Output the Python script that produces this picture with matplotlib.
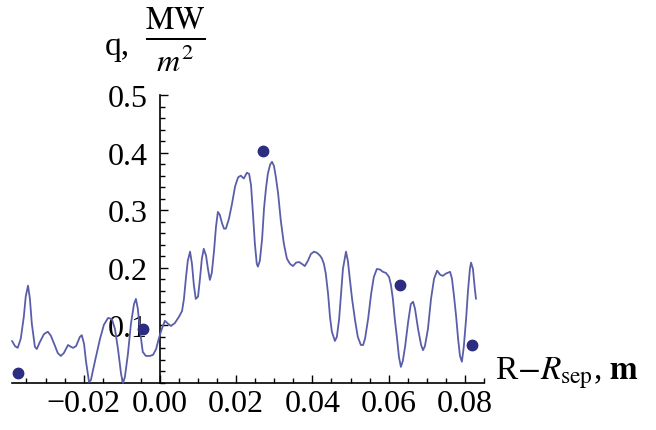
import matplotlib
matplotlib.use("Agg")
import matplotlib.pyplot as plt
from matplotlib.ticker import MultipleLocator, FuncFormatter

plt.rcParams['font.family'] = ['Liberation Serif', 'DejaVu Serif']
plt.rcParams['mathtext.fontset'] = 'stix'

# curve (R - R_sep [m], q [MW/m^2])
curve_x = [-0.0388, -0.0380, -0.0373, -0.0365, -0.0357, -0.0352, -0.0346, -0.0341, -0.0336, -0.0328,
           -0.0323, -0.0315, -0.0304, -0.0294, -0.0286, -0.0275, -0.0268, -0.0260, -0.0252, -0.0241,
           -0.0234, -0.0228, -0.0220, -0.0210, -0.0205, -0.0199, -0.0194, -0.0186, -0.0181, -0.0176,
           -0.0168, -0.0157, -0.0147, -0.0136, -0.0126, -0.0118, -0.0110, -0.0102, -0.0097, -0.0092,
           -0.0084, -0.0076, -0.0068, -0.0063, -0.0058, -0.0052, -0.0045, -0.0037, -0.0026, -0.0018,
           -0.0010, -0.0003, 0.0005, 0.0013, 0.0021, 0.0029, 0.0039, 0.0050, 0.0058, 0.0063,
           0.0068, 0.0073, 0.0079, 0.0084, 0.0089, 0.0094, 0.0100, 0.0105, 0.0110, 0.0115,
           0.0121, 0.0126, 0.0131, 0.0136, 0.0142, 0.0147, 0.0152, 0.0157, 0.0163, 0.0168,
           0.0173, 0.0181, 0.0189, 0.0197, 0.0205, 0.0212, 0.0220, 0.0228, 0.0234, 0.0239,
           0.0244, 0.0249, 0.0254, 0.0257, 0.0262, 0.0268, 0.0273, 0.0278, 0.0283, 0.0289,
           0.0294, 0.0299, 0.0304, 0.0310, 0.0317, 0.0325, 0.0333, 0.0341, 0.0349, 0.0357,
           0.0365, 0.0372, 0.0380, 0.0388, 0.0396, 0.0404, 0.0412, 0.0420, 0.0425, 0.0430,
           0.0435, 0.0441, 0.0446, 0.0451, 0.0459, 0.0464, 0.0470, 0.0475, 0.0480, 0.0488,
           0.0493, 0.0498, 0.0504, 0.0512, 0.0519, 0.0527, 0.0533, 0.0538, 0.0546, 0.0554,
           0.0561, 0.0569, 0.0577, 0.0585, 0.0593, 0.0601, 0.0606, 0.0611, 0.0616, 0.0622,
           0.0627, 0.0632, 0.0637, 0.0643, 0.0651, 0.0658, 0.0664, 0.0669, 0.0677, 0.0685,
           0.0690, 0.0695, 0.0703, 0.0711, 0.0719, 0.0727, 0.0735, 0.0742, 0.0750, 0.0761,
           0.0766, 0.0771, 0.0777, 0.0782, 0.0787, 0.0792, 0.0797, 0.0803, 0.0808, 0.0813,
           0.0816, 0.0821, 0.0826, 0.0829]
curve_y = [0.073, 0.064, 0.061, 0.077, 0.115, 0.150, 0.169, 0.146, 0.103, 0.063,
           0.059, 0.071, 0.085, 0.089, 0.082, 0.064, 0.052, 0.047, 0.052, 0.066,
           0.063, 0.061, 0.064, 0.080, 0.083, 0.068, 0.038, 0.002, 0.005, 0.021,
           0.045, 0.077, 0.101, 0.113, 0.111, 0.094, 0.059, 0.016, 0.000, 0.010,
           0.050, 0.103, 0.137, 0.146, 0.129, 0.089, 0.054, 0.047, 0.047, 0.049,
           0.059, 0.077, 0.094, 0.108, 0.103, 0.099, 0.104, 0.115, 0.125, 0.146,
           0.181, 0.212, 0.228, 0.207, 0.170, 0.146, 0.150, 0.181, 0.216, 0.233,
           0.221, 0.198, 0.179, 0.191, 0.230, 0.271, 0.297, 0.292, 0.277, 0.268,
           0.268, 0.285, 0.311, 0.341, 0.357, 0.360, 0.355, 0.365, 0.363, 0.343,
           0.294, 0.242, 0.207, 0.202, 0.212, 0.250, 0.303, 0.337, 0.363, 0.379,
           0.384, 0.377, 0.358, 0.329, 0.282, 0.242, 0.216, 0.207, 0.203, 0.209,
           0.210, 0.207, 0.203, 0.212, 0.224, 0.228, 0.226, 0.221, 0.216, 0.207,
           0.190, 0.155, 0.115, 0.089, 0.073, 0.080, 0.111, 0.155, 0.198, 0.228,
           0.212, 0.181, 0.146, 0.108, 0.080, 0.066, 0.066, 0.077, 0.111, 0.155,
           0.184, 0.198, 0.197, 0.193, 0.191, 0.184, 0.170, 0.146, 0.111, 0.077,
           0.045, 0.028, 0.038, 0.063, 0.106, 0.137, 0.141, 0.129, 0.094, 0.066,
           0.057, 0.064, 0.094, 0.146, 0.181, 0.195, 0.188, 0.186, 0.190, 0.193,
           0.181, 0.153, 0.115, 0.077, 0.047, 0.037, 0.063, 0.111, 0.160, 0.198,
           0.209, 0.198, 0.163, 0.146]

# measured points
pts_x = [-0.0372, -0.0045, 0.0270, 0.0630, 0.0818]
pts_y = [0.017, 0.094, 0.403, 0.170, 0.066]

xticks = [-0.02, 0.00, 0.02, 0.04, 0.06, 0.08]
yticks = [0.1, 0.2, 0.3, 0.4, 0.5]

fig = plt.figure(figsize=(6.56, 4.31), dpi=100)
ax = fig.add_axes([12/656, 47/431, 472/656, 288/431])
ax.set_xlim(-0.0388, 0.0850)
ax.set_ylim(0, 0.5)

ax.plot(curve_x, curve_y, color='#5a5ea8', lw=1.3, clip_on=False, zorder=3,
        solid_joinstyle='round', solid_capstyle='round')
ax.plot(pts_x, pts_y, 'o', color='#2c2c80', ms=7.5, clip_on=False, zorder=4)

for s in ['top', 'right']:
    ax.spines[s].set_visible(False)
ax.spines['left'].set_position(('data', 0))
ax.spines['bottom'].set_position(('data', 0))
for s in ['left', 'bottom']:
    ax.spines[s].set_linewidth(1.2)
    ax.spines[s].set_color('black')

ax.set_xticks(xticks)
ax.xaxis.set_minor_locator(MultipleLocator(0.005))
ax.set_yticks(yticks)
ax.yaxis.set_minor_locator(MultipleLocator(0.02))

def xfmt(v, pos):
    s = '%.2f' % abs(v)
    return ('\u2212' + s) if v < -1e-9 else s

ax.xaxis.set_major_formatter(FuncFormatter(xfmt))
ax.yaxis.set_major_formatter(FuncFormatter(lambda v, p: '%.1f' % v))

ax.tick_params(axis='x', which='major', direction='in', length=6, width=1, labelsize=23, pad=4)
ax.tick_params(axis='x', which='minor', direction='in', length=3.5, width=1)
ax.tick_params(axis='y', which='major', direction='in', length=6, width=1, labelsize=23, pad=9)
ax.tick_params(axis='y', which='minor', direction='in', length=3.5, width=1)

# axis labels
fig.text(105/656, 1 - 55/431, 'q,', fontsize=24, ha='left', va='baseline')
fig.text(175/656, 1 - 40/431, r'$\frac{\mathrm{MW}}{m^2}$', fontsize=33, ha='center', va='center')
fig.text(495/656, 1 - 373/431, r'R$-R_{\mathrm{sep}}$, $\mathbf{m}$', fontsize=24, ha='left', va='center')

fig.savefig('out.png', dpi=100)
